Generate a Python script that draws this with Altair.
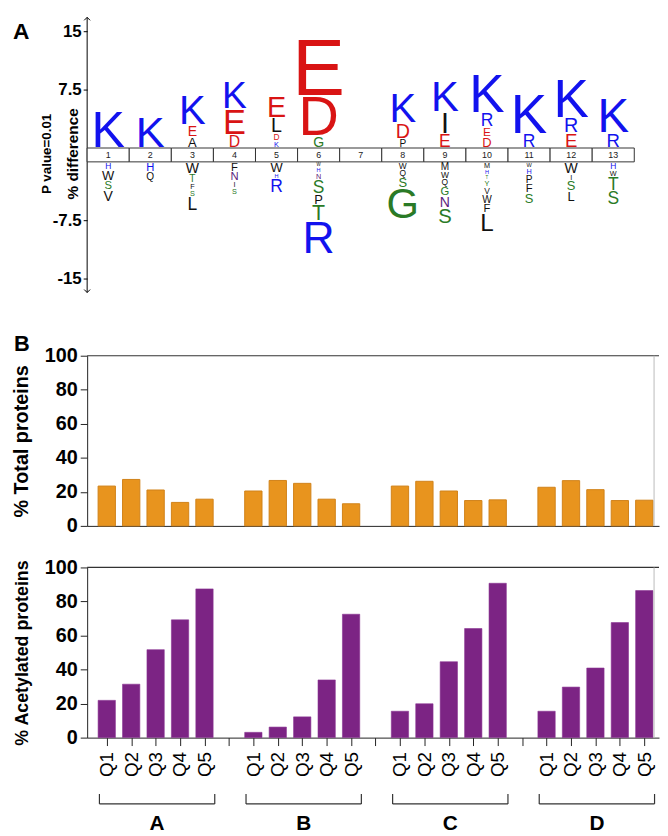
import altair as alt
import pandas as pd

# ---------------- Panel A: sequence logo (pLogo) ----------------
positions = list(range(1, 14))
# letters stacked above the position band, listed from the band outwards
pos_letters = ["K", "K", "AEK", "DEK", "KDLE", "GDE", "", "PDK", "EIK", "DERK", "RK", "ERK", "RK"]
pos_heights = [
    [4.7], [4.1], [1.4, 1.5, 3.8], [1.65, 3.3, 3.55], [0.9, 1.0, 2.0, 2.8],
    [1.5, 5.2, 7.25], [], [1.15, 2.0, 3.8], [1.8, 2.8, 3.95], [1.4, 1.3, 1.8, 4.95],
    [1.8, 5.1], [1.9, 2.0, 4.95], [1.9, 4.45],
]
# letters stacked below the position band, listed from the band outwards
neg_letters = ["HWSV", "HQ", "WTFSL", "FNIS", "WHR", "WHNSPTR", "", "WQSG", "MWQGNS",
               "MHTYVWFL", "WHPFS", "WISL", "HWTS"]
neg_heights = [
    [1.0, 1.4, 1.25, 1.5], [1.25, 1.15], [1.5, 1.15, 0.9, 0.9, 1.8], [1.25, 1.25, 0.9, 0.9],
    [1.4, 0.75, 1.8], [0.65, 0.75, 0.9, 1.8, 1.4, 2.15, 4.2], [], [1.0, 1.0, 1.4, 3.95],
    [1.15, 1.0, 1.0, 1.25, 1.5, 2.05], [0.9, 0.75, 0.65, 0.9, 1.0, 1.15, 1.25, 2.4],
    [0.75, 0.9, 1.15, 1.25, 1.4], [1.5, 0.9, 1.4, 1.4], [1.0, 0.9, 1.8, 1.8],
]
axis_values_A = [15, 7.5, -7.5, -15]
axis_labels_A = ["15", "7.5", "-7.5", "-15"]

letter_domain = ["K", "R", "H", "E", "D", "G", "S", "T", "Y", "N", "Q", "A", "L", "I", "P", "F", "W", "V", "M"]
BLUE, RED, GREEN, PURPLE, BLACK = "#1212EE", "#D91414", "#2A7A26", "#5C1E7E", "#111111"
letter_range = [BLUE, BLUE, BLUE, RED, RED, GREEN, GREEN, GREEN, GREEN, PURPLE, BLACK,
                BLACK, BLACK, BLACK, BLACK, BLACK, BLACK, BLACK, BLACK]

# ---------------- Panel B: bar charts ----------------
groups = ["A", "B", "C", "D"]
quintiles = ["Q1", "Q2", "Q3", "Q4", "Q5"]
total_pct = [23.4, 27.3, 21.1, 13.8, 15.7,
             20.5, 26.7, 25.0, 15.7, 13.0,
             23.4, 26.2, 20.5, 14.9, 15.3,
             22.7, 26.6, 21.3, 14.9, 15.1]
acetyl_pct = [21.9, 31.4, 51.7, 69.2, 87.4,
              3.1, 6.2, 12.2, 33.9, 72.5,
              15.5, 19.9, 44.6, 64.1, 90.7,
              15.5, 29.7, 40.9, 67.6, 86.4]
y_ticks_B = [0, 20, 40, 60, 80, 100]

# ---------------- tables ----------------
rows = []
for i, p in enumerate(positions):
    for r, (ch, h) in enumerate(zip(pos_letters[i], pos_heights[i])):
        rows.append(dict(col=p, letter=ch, h=h, sign=1, rank=r))
    for r, (ch, h) in enumerate(zip(neg_letters[i], neg_heights[i])):
        rows.append(dict(col=p, letter=ch, h=h, sign=-1, rank=r))
logo_df = pd.DataFrame(rows)
band_df = pd.DataFrame({"col": positions, "num": [str(p) for p in positions]})

bar_rows = []
for gi, g in enumerate(groups):
    for qi, q in enumerate(quintiles):
        bar_rows.append(dict(group=g, q=q, slot=gi * 6 + qi,
                             total=total_pct[gi * 5 + qi], acetyl=acetyl_pct[gi * 5 + qi]))
bar_df = pd.DataFrame(bar_rows)
br_df = pd.DataFrame({"group": groups, "first": [gi * 6 for gi in range(len(groups))]})
one = pd.DataFrame({"a": [0]})

FONT = "Liberation Sans"
G = 0.89      # half height of the position band, in % units
PPU = 7.87    # pixels per % unit
CAP = 0.69    # cap height / font size
YTOP, YBOT = 17.67, -20.45

xsA = alt.Scale(domain=[0.5, 13.5], nice=False, zero=False)
ysA = alt.Scale(domain=[YBOT, YTOP], nice=False, zero=False)

tick_vals = [v + G if v > 0 else v - G for v in axis_values_A]
label_expr = " : ".join(
    f"abs(datum.value - {tv}) < 0.01 ? '{lab}'" for tv, lab in zip(tick_vals, axis_labels_A)
) + " : ''"
axisA = alt.Axis(values=tick_vals, labelExpr=label_expr, domain=False, grid=False,
                 tickSize=4, tickColor="black", labelFontSize=17, labelFontWeight="bold",
                 labelColor="black", labelPadding=2, title=None)

axis_line = alt.Chart(one).mark_rule(color="black", strokeWidth=1).encode(
    x=alt.XDatum(0.5, scale=xsA, axis=None),
    y=alt.YDatum(-YTOP, scale=ysA, axis=axisA),
    y2=alt.Y2Datum(YTOP),
)
arrow_up = alt.Chart(one).mark_point(shape="M-1,1L0,0L1,1", size=36, filled=False,
                                     color="black", strokeWidth=1, opacity=1).encode(
    x=alt.XDatum(0.5, scale=xsA, axis=None), y=alt.YDatum(YTOP, scale=ysA, axis=axisA))
arrow_dn = alt.Chart(one).mark_point(shape="M-1,-1L0,0L1,-1", size=36, filled=False,
                                     color="black", strokeWidth=1, opacity=1).encode(
    x=alt.XDatum(0.5, scale=xsA, axis=None), y=alt.YDatum(-YTOP, scale=ysA, axis=axisA))

band = alt.Chart(band_df).transform_calculate(
    a="datum.col - 0.5", b="datum.col + 0.5"
).mark_rect(fill="white", stroke="#333333", strokeWidth=1).encode(
    x=alt.X("a:Q", scale=xsA, axis=None), x2="b:Q",
    y=alt.YDatum(-G, scale=ysA, axis=axisA), y2=alt.Y2Datum(G),
)
band_nums = alt.Chart(band_df).mark_text(fontSize=9, color="#222222", baseline="middle").encode(
    x=alt.X("col:Q", scale=xsA, axis=None),
    y=alt.YDatum(0, scale=ysA, axis=axisA),
    text="num:N",
)

letters = alt.Chart(logo_df).transform_window(
    cum="sum(h)", groupby=["col", "sign"], sort=[alt.SortField("rank", order="ascending")],
    frame=[None, 0],
).transform_calculate(
    base=f"datum.sign > 0 ? {G} + datum.cum - datum.h : -({G} + datum.cum)",
    fs=f"max((datum.h * {PPU} - 2) / {CAP}, 4)",
).mark_text(align="center", baseline="alphabetic", dy=-1, font=FONT).encode(
    x=alt.X("col:Q", scale=xsA, axis=None),
    y=alt.Y("base:Q", scale=ysA, axis=axisA),
    text="letter:N",
    size=alt.Size("fs:Q", scale=None),
    color=alt.Color("letter:N", scale=alt.Scale(domain=letter_domain, range=letter_range), legend=None),
)

ptext = alt.Chart(pd.DataFrame({"t": ["P value=0.01"]})).mark_text(
    angle=270, fontSize=13.5, fontWeight="bold", color="black", align="center", baseline="middle"
).encode(x=alt.value(-41), y=alt.value(138), text="t:N")
dtext = alt.Chart(pd.DataFrame({"t": ["% difference"]})).mark_text(
    angle=270, fontSize=15.5, fontWeight="bold", color="black", align="center", baseline="middle"
).encode(x=alt.value(-14), y=alt.value(138), text="t:N")
labA = alt.Chart(pd.DataFrame({"t": ["A"]})).mark_text(
    fontSize=23, fontWeight="bold", color="black", align="left", baseline="alphabetic"
).encode(x=alt.value(-75), y=alt.value(22), text="t:N")

logo = alt.layer(axis_line, band, band_nums, arrow_up, arrow_dn, letters, ptext, dtext, labA).properties(
    width=553, height=300)

# ---------------- bar charts ----------------
xsB = alt.Scale(domain=[-0.6, 22.4], nice=False, zero=False)
ysB = alt.Scale(domain=[0, 100], nice=False, zero=True)


def yaxis(title, tsize):
    return alt.Axis(values=y_ticks_B, title=title, titleFontSize=tsize, titleFontWeight="bold",
                    titleColor="black", titlePadding=13, labelFontSize=20, labelFontWeight="bold",
                    labelColor="black", labelPadding=3, tickSize=7, tickColor="#222222",
                    domainColor="#222222", grid=False)


xaxis_top = alt.Axis(labels=False, ticks=False, title=None, grid=False, domainColor="#222222")
q_arr = "[" + ",".join(f"'{q}'" for q in quintiles) + ",'']"
xaxisB = alt.Axis(values=list(range(23)), labelExpr=f"{q_arr}[datum.value % 6]", labelAngle=270,
                  labelFontSize=19, labelColor="black", labelPadding=6, tickSize=8,
                  tickColor="#222222", domainColor="#222222", grid=False, title=None,
                  labelOverlap=False, labelFlush=False)


def frame_rules(yax, xax):
    top = alt.Chart(one).mark_rule(color="#333333", strokeWidth=1.2).encode(
        y=alt.YDatum(100, scale=ysB, axis=yax))
    right = alt.Chart(one).mark_rule(color="#BBBBBB", strokeWidth=1).encode(
        x=alt.XDatum(22.4, scale=xsB, axis=xax))
    return top, right


yax_top = yaxis("% Total proteins", 20)
top_bars = alt.Chart(bar_df).mark_bar(size=17.5, color="#E8941E", stroke="#D08219", strokeWidth=1).encode(
    x=alt.X("slot:Q", scale=xsB, axis=xaxis_top),
    y=alt.Y("total:Q", scale=ysB, axis=yax_top),
)
labB = alt.Chart(pd.DataFrame({"t": ["B"]})).mark_text(
    fontSize=22, fontWeight="bold", color="black", align="left", baseline="alphabetic"
).encode(x=alt.value(-74), y=alt.value(-5), text="t:N")
t1, r1 = frame_rules(yax_top, xaxis_top)
top_chart = alt.layer(top_bars, t1, r1, labB).properties(width=578, height=172)

yax_bot = yaxis("% Acetylated proteins", 18)
bot_bars = alt.Chart(bar_df).mark_bar(size=17.5, color="#7C2484", stroke="#8A3392", strokeWidth=0.6).encode(
    x=alt.X("slot:Q", scale=xsB, axis=xaxisB),
    y=alt.Y("acetyl:Q", scale=ysB, axis=yax_bot),
)
br = alt.Chart(br_df).transform_calculate(
    lo="datum.first - 0.3", hi="datum.first + 4.42", mid="datum.first + 2.06")
br_h = br.mark_rule(color="#333333", strokeWidth=1.2).encode(
    x=alt.X("lo:Q", scale=xsB, axis=xaxisB), x2="hi:Q", y=alt.value(239))
br_l = br.mark_rule(color="#333333", strokeWidth=1.2).encode(
    x=alt.X("lo:Q", scale=xsB, axis=xaxisB), y=alt.value(229), y2=alt.value(239))
br_r = br.mark_rule(color="#333333", strokeWidth=1.2).encode(
    x=alt.X("hi:Q", scale=xsB, axis=xaxisB), y=alt.value(229), y2=alt.value(239))
br_t = br.mark_text(fontSize=21, fontWeight="bold", color="black", baseline="alphabetic").encode(
    x=alt.X("mid:Q", scale=xsB, axis=xaxisB), y=alt.value(265), text="group:N")
t2, r2 = frame_rules(yax_bot, xaxisB)
bot_chart = alt.layer(bot_bars, t2, r2, br_h, br_l, br_r, br_t).properties(width=578, height=172)

chart = alt.vconcat(logo, top_chart, bot_chart, spacing=42, bounds="flush").properties(
    padding={"left": 3, "top": 3, "right": 0, "bottom": 0}
).configure(font=FONT).configure_view(stroke=None)

chart.save("out.html", embed_options={"renderer": "svg", "actions": False})
